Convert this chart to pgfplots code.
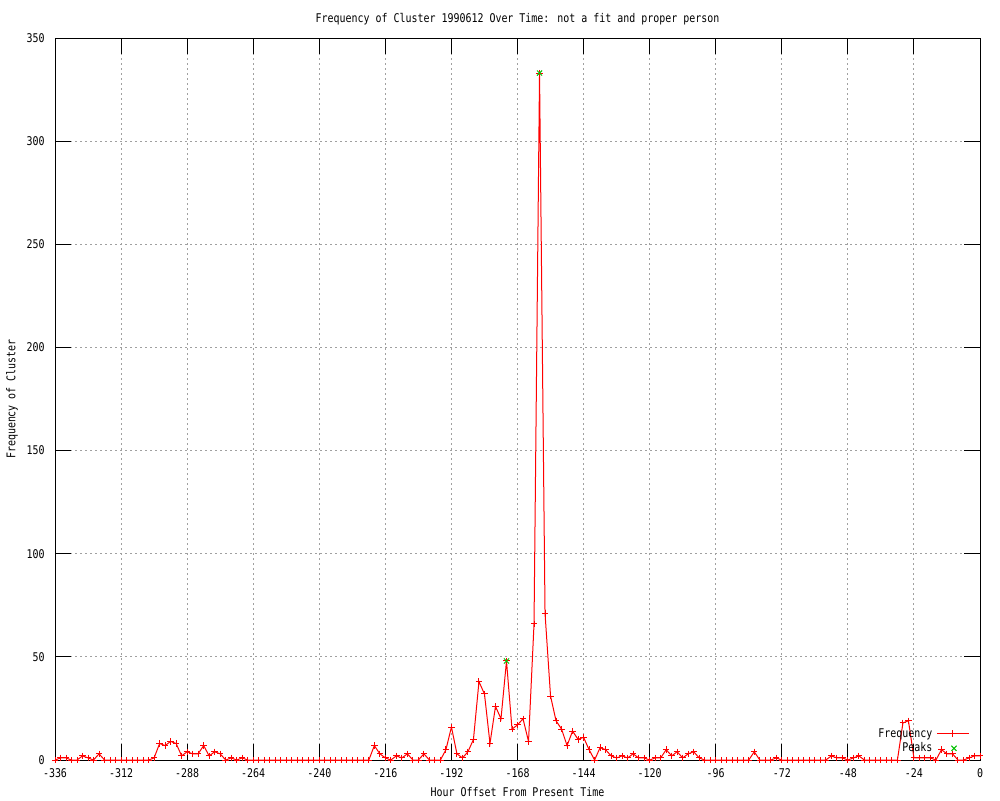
\documentclass[border=0pt]{standalone}
\usepackage{fontspec}
\setmainfont{DejaVu Sans Mono}[FakeStretch=0.83]
\usepackage{pgfplots}
\pgfplotsset{compat=1.18}
\usepackage{pgfplotstable}
\definecolor{gpred}{RGB}{255,0,0}
\definecolor{gpgreen}{RGB}{0,192,0}
\definecolor{gpgrid}{RGB}{160,160,160}
\pgfplotstableread{
h f
-336 0
-334 1
-332 1
-330 0
-328 0
-326 2
-324 1
-322 0
-320 3
-318 0
-316 0
-314 0
-312 0
-310 0
-308 0
-306 0
-304 0
-302 0
-300 1
-298 8
-296 7
-294 9
-292 8
-290 2
-288 4
-286 3
-284 3
-282 7
-280 2
-278 4
-276 3
-274 0
-272 1
-270 0
-268 1
-266 0
-264 0
-262 0
-260 0
-258 0
-256 0
-254 0
-252 0
-250 0
-248 0
-246 0
-244 0
-242 0
-240 0
-238 0
-236 0
-234 0
-232 0
-230 0
-228 0
-226 0
-224 0
-222 0
-220 7
-218 3
-216 1
-214 0
-212 2
-210 1
-208 3
-206 0
-204 0
-202 3
-200 0
-198 0
-196 0
-194 5
-192 16
-190 3
-188 1
-186 4
-184 10
-182 38
-180 32
-178 8
-176 26
-174 20
-172 48
-170 15
-168 17
-166 20
-164 9
-162 66
-160 333
-158 71
-156 31
-154 19
-152 15
-150 7
-148 14
-146 10
-144 11
-142 5
-140 0
-138 6
-136 5
-134 2
-132 1
-130 2
-128 1
-126 3
-124 1
-122 1
-120 0
-118 1
-116 1
-114 5
-112 2
-110 4
-108 1
-106 3
-104 4
-102 1
-100 0
-98 0
-96 0
-94 0
-92 0
-90 0
-88 0
-86 0
-84 0
-82 4
-80 0
-78 0
-76 0
-74 1
-72 0
-70 0
-68 0
-66 0
-64 0
-62 0
-60 0
-58 0
-56 0
-54 2
-52 1
-50 1
-48 0
-46 1
-44 2
-42 0
-40 0
-38 0
-36 0
-34 0
-32 0
-30 0
-28 18
-26 19
-24 1
-22 1
-20 1
-18 1
-16 0
-14 5
-12 3
-10 3
-8 0
-6 0
-4 1
-2 2
0 2
}\freqdata
\pgfplotstableread{
h f
-172 48
-160 333
}\peakdata
\pgfplotsset{layers/gnuplot/.define layer set={axis background,axis grid,main,axis ticks,axis lines,axis tick labels,axis descriptions,axis foreground}{}}
\begin{document}
\fontsize{6}{7}\selectfont
\begin{tikzpicture}[font=\fontsize{6}{7}\selectfont]
\path (0,0) rectangle (500pt,400pt);
\begin{axis}[
  set layers=gnuplot,
  at={(27.5pt,20pt)}, anchor=south west,
  width=462.5pt, height=361pt, scale only axis,
  xmin=-336, xmax=0, ymin=0, ymax=350,
  clip=false,
  xtick={-336,-312,-288,-264,-240,-216,-192,-168,-144,-120,-96,-72,-48,-24,0},
  xticklabels={-336,-312,-288,-264,-240,-216,-192,-168,-144,-120,-96,-72,-48,-24,0},
  ytick={0,50,100,150,200,250,300,350},
  /pgf/number format/assume math mode=true,
  tick align=inside, major tick length=8pt,
  tick style={black, line width=0.5pt},
  axis line style={black, line width=0.5pt},
  xticklabel style={anchor=center, inner sep=0pt, yshift=-6.5pt},
  yticklabel style={anchor=east, inner sep=0pt, xshift=-5pt},
  grid=major,
  major grid style={gpgrid, line width=0.5pt, dash pattern=on 1pt off 1.5pt},
  title={Frequency of Cluster 1990612 Over Time: not a fit and proper person},
  title style={at={(axis description cs:0.5,1.0097)}, anchor=center, inner sep=0pt, yshift=0pt},
  xlabel={Hour Offset From Present Time},
  xlabel style={at={(axis description cs:0.5,-0.0443)}, anchor=center, inner sep=0pt},
  ylabel={Frequency of Cluster},
  ylabel style={at={(axis description cs:-0.0465,0.5)}, anchor=center, inner sep=0pt},
  legend style={draw=none, fill=none, at={(rel axis cs:0.989,0.05)}, anchor=north east, inner sep=0pt, row sep=-2pt, font=\fontsize{6}{7}\selectfont},
  legend cell align=right,
  legend plot pos=right,
]
\addplot[gpred, line width=0.5pt, mark=+, mark size=1.6pt, mark options={solid},
  legend image code/.code={\draw[gpred, line width=0.5pt, mark=+, mark size=1.6pt, mark repeat=2, mark phase=2] plot coordinates {(0pt,0pt)(8pt,0pt)(16pt,0pt)};}] table[x=h,y=f]{\freqdata};
\addlegendentry{Frequency}
\addplot[gpgreen, only marks, mark=x, mark size=1.8pt, line width=0.5pt] table[x=h,y=f]{\peakdata};
\addlegendentry{Peaks}
\end{axis}
\end{tikzpicture}
\end{document}
